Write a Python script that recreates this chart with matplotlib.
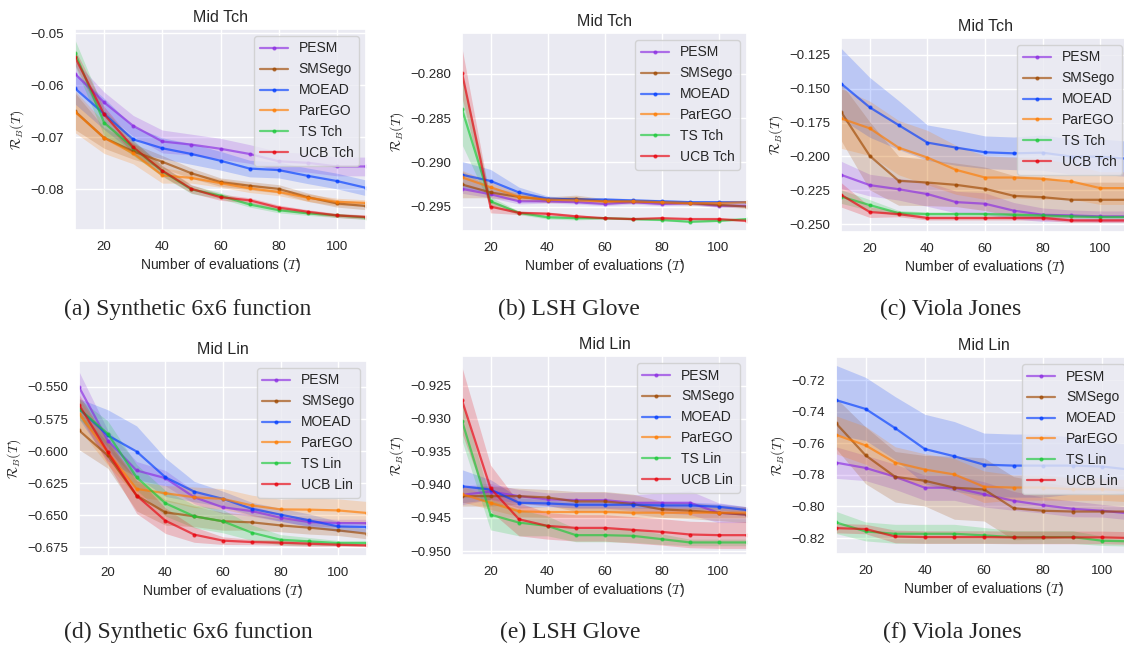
import numpy as np
import matplotlib
matplotlib.use('Agg')
import matplotlib.pyplot as plt
import seaborn as sns

sns.set_theme(style='darkgrid')
plt.rcParams['font.family'] = ['Liberation Sans', 'DejaVu Sans']
plt.rcParams['mathtext.fontset'] = 'cm'

# evaluations
T = [10, 20, 30, 40, 50, 60, 70, 80, 90, 100, 110]
methods = ['PESM', 'SMSego', 'MOEAD', 'ParEGO', 'TS', 'UCB']
colors = ['#8B2BE2', '#9F4800', '#023EFF', '#FF7C00', '#1AC938', '#E8000B']

# (a) Synthetic 6x6, Mid Tch
syn_tch_mean = {
    'PESM':   [-0.0578, -0.0633, -0.0678, -0.0708, -0.0714, -0.0722, -0.0732, -0.0746, -0.0749, -0.0756, -0.0756],
    'SMSego': [-0.0650, -0.0701, -0.0727, -0.0747, -0.0769, -0.0786, -0.0793, -0.0799, -0.0815, -0.0827, -0.0832],
    'MOEAD':  [-0.0606, -0.0655, -0.0704, -0.0721, -0.0732, -0.0745, -0.0760, -0.0763, -0.0774, -0.0784, -0.0797],
    'ParEGO': [-0.0651, -0.0701, -0.0731, -0.0773, -0.0778, -0.0788, -0.0798, -0.0805, -0.0816, -0.0824, -0.0826],
    'TS':     [-0.0538, -0.0672, -0.0720, -0.0765, -0.0800, -0.0812, -0.0829, -0.0840, -0.0846, -0.0850, -0.0854],
    'UCB':    [-0.0546, -0.0656, -0.0719, -0.0764, -0.0799, -0.0815, -0.0821, -0.0835, -0.0843, -0.0850, -0.0853],
}
syn_tch_sd = {
    'PESM':   [0.0025, 0.0020, 0.0020, 0.0022, 0.0020, 0.0020, 0.0018, 0.0018, 0.0018, 0.0018, 0.0018],
    'SMSego': [0.0035, 0.0020, 0.0015, 0.0012, 0.0010, 0.0008, 0.0008, 0.0008, 0.0008, 0.0007, 0.0007],
    'MOEAD':  [0.0030, 0.0030, 0.0025, 0.0020, 0.0020, 0.0018, 0.0016, 0.0015, 0.0015, 0.0015, 0.0015],
    'ParEGO': [0.0040, 0.0030, 0.0020, 0.0015, 0.0010, 0.0008, 0.0008, 0.0007, 0.0007, 0.0007, 0.0006],
    'TS':     [0.0025, 0.0025, 0.0015, 0.0010, 0.0008, 0.0006, 0.0005, 0.0005, 0.0004, 0.0004, 0.0004],
    'UCB':    [0.0015, 0.0015, 0.0012, 0.0010, 0.0008, 0.0006, 0.0005, 0.0005, 0.0004, 0.0004, 0.0004],
}

# (b) LSH Glove, Mid Tch
lsh_tch_mean = {
    'PESM':   [-0.2930, -0.2936, -0.2944, -0.2944, -0.2945, -0.2947, -0.2945, -0.2947, -0.2946, -0.2949, -0.2949],
    'SMSego': [-0.2925, -0.2934, -0.2939, -0.2942, -0.2941, -0.2944, -0.2944, -0.2945, -0.2946, -0.2948, -0.2950],
    'MOEAD':  [-0.2914, -0.2921, -0.2934, -0.2941, -0.2942, -0.2942, -0.2943, -0.2944, -0.2945, -0.2945, -0.2945],
    'ParEGO': [-0.2917, -0.2928, -0.2939, -0.2942, -0.2943, -0.2944, -0.2944, -0.2945, -0.2946, -0.2946, -0.2945],
    'TS':     [-0.2840, -0.2944, -0.2957, -0.2962, -0.2963, -0.2963, -0.2964, -0.2965, -0.2967, -0.2966, -0.2964],
    'UCB':    [-0.2799, -0.2950, -0.2957, -0.2958, -0.2961, -0.2963, -0.2964, -0.2963, -0.2964, -0.2964, -0.2966],
}
lsh_tch_sd = {
    'PESM':   [0.0005, 0.0004, 0.0003, 0.0002, 0.0002, 0.0002, 0.0002, 0.0002, 0.0002, 0.0002, 0.0002],
    'SMSego': [0.0015, 0.0006, 0.0004, 0.0003, 0.0004, 0.0003, 0.0002, 0.0002, 0.0002, 0.0002, 0.0002],
    'MOEAD':  [0.0015, 0.0013, 0.0006, 0.0003, 0.0002, 0.0002, 0.0002, 0.0002, 0.0002, 0.0002, 0.0002],
    'ParEGO': [0.0008, 0.0006, 0.0004, 0.0003, 0.0002, 0.0002, 0.0002, 0.0002, 0.0002, 0.0002, 0.0002],
    'TS':     [0.0040, 0.0005, 0.0002, 0.0002, 0.0002, 0.0001, 0.0001, 0.0001, 0.0001, 0.0001, 0.0001],
    'UCB':    [0.0028, 0.0007, 0.0002, 0.0002, 0.0002, 0.0001, 0.0001, 0.0001, 0.0001, 0.0001, 0.0001],
}

# (c) Viola Jones, Mid Tch
vj_tch_mean = {
    'PESM':   [-0.2135, -0.2211, -0.2241, -0.2277, -0.2336, -0.2348, -0.2399, -0.2429, -0.2434, -0.2441, -0.2441],
    'SMSego': [-0.1671, -0.1996, -0.2179, -0.2192, -0.2209, -0.2238, -0.2290, -0.2300, -0.2319, -0.2319, -0.2319],
    'MOEAD':  [-0.1463, -0.1639, -0.1769, -0.1898, -0.1935, -0.1969, -0.1977, -0.1972, -0.2001, -0.2001, -0.2018],
    'ParEGO': [-0.1720, -0.1793, -0.1935, -0.2008, -0.2099, -0.2155, -0.2155, -0.2165, -0.2184, -0.2233, -0.2233],
    'TS':     [-0.2295, -0.2358, -0.2417, -0.2424, -0.2424, -0.2424, -0.2429, -0.2434, -0.2441, -0.2446, -0.2446],
    'UCB':    [-0.2282, -0.2409, -0.2424, -0.2453, -0.2453, -0.2453, -0.2453, -0.2453, -0.2471, -0.2471, -0.2471],
}
vj_tch_sd = {
    'PESM':   [0.010, 0.008, 0.008, 0.009, 0.008, 0.008, 0.006, 0.005, 0.004, 0.004, 0.004],
    'SMSego': [0.021, 0.025, 0.018, 0.017, 0.016, 0.016, 0.015, 0.015, 0.013, 0.013, 0.013],
    'MOEAD':  [0.026, 0.022, 0.018, 0.013, 0.013, 0.012, 0.012, 0.013, 0.013, 0.013, 0.013],
    'ParEGO': [0.022, 0.020, 0.020, 0.020, 0.018, 0.016, 0.015, 0.015, 0.013, 0.012, 0.012],
    'TS':     [0.005, 0.004, 0.002, 0.0015, 0.0015, 0.0015, 0.0015, 0.0015, 0.0015, 0.0015, 0.0015],
    'UCB':    [0.009, 0.004, 0.002, 0.0015, 0.0015, 0.0015, 0.0015, 0.0015, 0.0015, 0.0015, 0.0015],
}

# (d) Synthetic 6x6, Mid Lin
syn_lin_mean = {
    'PESM':   [-0.5500, -0.5918, -0.6152, -0.6212, -0.6361, -0.6440, -0.6469, -0.6521, -0.6555, -0.6563, -0.6563],
    'SMSego': [-0.5839, -0.6035, -0.6348, -0.6479, -0.6510, -0.6549, -0.6557, -0.6581, -0.6599, -0.6620, -0.6646],
    'MOEAD':  [-0.5670, -0.5878, -0.6004, -0.6205, -0.6317, -0.6374, -0.6451, -0.6497, -0.6542, -0.6589, -0.6594],
    'ParEGO': [-0.5709, -0.6010, -0.6296, -0.6330, -0.6361, -0.6374, -0.6425, -0.6456, -0.6458, -0.6464, -0.6484],
    'TS':     [-0.5670, -0.5865, -0.6205, -0.6408, -0.6510, -0.6549, -0.6638, -0.6693, -0.6706, -0.6719, -0.6719],
    'UCB':    [-0.5638, -0.6009, -0.6348, -0.6544, -0.6653, -0.6700, -0.6711, -0.6716, -0.6724, -0.6732, -0.6737],
}
syn_lin_sd = {
    'PESM':   [0.012, 0.008, 0.007, 0.006, 0.005, 0.005, 0.004, 0.003, 0.003, 0.003, 0.003],
    'SMSego': [0.015, 0.010, 0.012, 0.010, 0.008, 0.007, 0.006, 0.005, 0.005, 0.004, 0.004],
    'MOEAD':  [0.008, 0.020, 0.020, 0.015, 0.008, 0.006, 0.005, 0.005, 0.005, 0.004, 0.004],
    'ParEGO': [0.012, 0.010, 0.006, 0.006, 0.008, 0.008, 0.008, 0.008, 0.009, 0.009, 0.009],
    'TS':     [0.008, 0.010, 0.010, 0.010, 0.009, 0.009, 0.006, 0.004, 0.003, 0.002, 0.002],
    'UCB':    [0.008, 0.009, 0.014, 0.010, 0.006, 0.003, 0.002, 0.002, 0.002, 0.001, 0.001],
}

# (e) LSH Glove, Mid Lin
lsh_lin_mean = {
    'PESM':   [-0.9415, -0.9410, -0.9417, -0.9422, -0.9423, -0.9423, -0.9427, -0.9427, -0.9427, -0.9442, -0.9445],
    'SMSego': [-0.9417, -0.9417, -0.9417, -0.9419, -0.9425, -0.9425, -0.9429, -0.9437, -0.9439, -0.9442, -0.9445],
    'MOEAD':  [-0.9402, -0.9407, -0.9427, -0.9428, -0.9430, -0.9430, -0.9430, -0.9431, -0.9431, -0.9433, -0.9438],
    'ParEGO': [-0.9414, -0.9427, -0.9440, -0.9441, -0.9441, -0.9441, -0.9442, -0.9442, -0.9442, -0.9442, -0.9442],
    'TS':     [-0.9303, -0.9445, -0.9457, -0.9462, -0.9476, -0.9476, -0.9477, -0.9482, -0.9487, -0.9487, -0.9487],
    'UCB':    [-0.9272, -0.9405, -0.9452, -0.9462, -0.9465, -0.9465, -0.9468, -0.9471, -0.9475, -0.9476, -0.9476],
}
lsh_lin_sd = {
    'PESM':   [0.0015, 0.0012, 0.0010, 0.0010, 0.0012, 0.0012, 0.0012, 0.0015, 0.0018, 0.0015, 0.0012],
    'SMSego': [0.0015, 0.0015, 0.0012, 0.0012, 0.0015, 0.0015, 0.0015, 0.0012, 0.0012, 0.0012, 0.0012],
    'MOEAD':  [0.0025, 0.0015, 0.0008, 0.0005, 0.0005, 0.0005, 0.0005, 0.0005, 0.0005, 0.0005, 0.0005],
    'ParEGO': [0.0012, 0.0010, 0.0008, 0.0008, 0.0008, 0.0008, 0.0008, 0.0008, 0.0008, 0.0008, 0.0008],
    'TS':     [0.0030, 0.0023, 0.0020, 0.0015, 0.0010, 0.0010, 0.0010, 0.0008, 0.0005, 0.0005, 0.0005],
    'UCB':    [0.0050, 0.0035, 0.0025, 0.0020, 0.0020, 0.0020, 0.0020, 0.0020, 0.0020, 0.0020, 0.0020],
}

# (f) Viola Jones, Mid Lin
vj_lin_mean = {
    'PESM':   [-0.7722, -0.7756, -0.7812, -0.7881, -0.7881, -0.7923, -0.7964, -0.7992, -0.8015, -0.8027, -0.8046],
    'SMSego': [-0.7473, -0.7676, -0.7812, -0.7837, -0.7881, -0.7892, -0.8011, -0.8027, -0.8032, -0.8032, -0.8032],
    'MOEAD':  [-0.7326, -0.7382, -0.7504, -0.7636, -0.7682, -0.7735, -0.7741, -0.7741, -0.7741, -0.7747, -0.7768],
    'ParEGO': [-0.7546, -0.7613, -0.7722, -0.7766, -0.7797, -0.7875, -0.7880, -0.7880, -0.7891, -0.7891, -0.7901],
    'TS':     [-0.8101, -0.8158, -0.8173, -0.8173, -0.8173, -0.8183, -0.8194, -0.8194, -0.8194, -0.8217, -0.8221],
    'UCB':    [-0.8137, -0.8143, -0.8190, -0.8194, -0.8194, -0.8194, -0.8196, -0.8196, -0.8196, -0.8196, -0.8200],
}
vj_lin_sd = {
    'PESM':   [0.010, 0.008, 0.008, 0.008, 0.008, 0.008, 0.006, 0.005, 0.005, 0.004, 0.004],
    'SMSego': [0.016, 0.018, 0.016, 0.016, 0.020, 0.020, 0.020, 0.018, 0.016, 0.016, 0.016],
    'MOEAD':  [0.022, 0.020, 0.020, 0.022, 0.022, 0.020, 0.020, 0.020, 0.018, 0.016, 0.016],
    'ParEGO': [0.012, 0.012, 0.010, 0.010, 0.010, 0.010, 0.008, 0.008, 0.007, 0.007, 0.007],
    'TS':     [0.007, 0.006, 0.006, 0.006, 0.006, 0.005, 0.004, 0.004, 0.004, 0.003, 0.003],
    'UCB':    [0.003, 0.003, 0.004, 0.004, 0.004, 0.004, 0.004, 0.004, 0.004, 0.004, 0.004],
}

panels = [
    # mean, sd, title, suffix, ylim, yticks, caption, axes box in pixels (l, t, r, b)
    (syn_tch_mean, syn_tch_sd, 'Mid Tch', 'Tch', (-0.0878, -0.0492), [-0.08, -0.07, -0.06, -0.05],
     '(a) Synthetic 6x6 function', (75, 29, 366, 230), (188, 309)),
    (lsh_tch_mean, lsh_tch_sd, 'Mid Tch', 'Tch', (-0.29775, -0.2754), [-0.295, -0.290, -0.285, -0.280],
     '(b) LSH Glove', (462, 33, 747, 231), (569, 309)),
    (vj_tch_mean, vj_tch_sd, 'Mid Tch', 'Tch', (-0.2556, -0.1128), [-0.250, -0.225, -0.200, -0.175, -0.150, -0.125],
     '(c) Viola Jones', (841, 38, 1129, 232), (951, 309)),
    (syn_lin_mean, syn_lin_sd, 'Mid Lin', 'Lin', (-0.682, -0.5297), [-0.675, -0.650, -0.625, -0.600, -0.575, -0.550],
     '(d) Synthetic 6x6 function', (79, 361, 367, 556), (188, 632)),
    (lsh_lin_mean, lsh_lin_sd, 'Mid Lin', 'Lin', (-0.9506, -0.9205), [-0.950, -0.945, -0.940, -0.935, -0.930, -0.925],
     '(e) LSH Glove', (462, 356, 747, 555), (570, 632)),
    (vj_lin_mean, vj_lin_sd, 'Mid Lin', 'Lin', (-0.8301, -0.7053), [-0.82, -0.80, -0.78, -0.76, -0.74, -0.72],
     '(f) Viola Jones', (836, 357, 1132, 554), (952, 632)),
]

W, H = 1124, 647
fig = plt.figure(figsize=(W / 100, H / 100), dpi=100)
fig.patch.set_facecolor('white')

x = np.array(T)
for mean, sd, title, suffix, ylim, yticks, caption, box, cap_xy in panels:
    l, t, r, b = box
    ax = fig.add_axes([l / W, 1 - b / H, (r - l) / W, (b - t) / H])
    for name, c in zip(methods, colors):
        m = np.array(mean[name])
        s = np.array(sd[name])
        label = name if name not in ('TS', 'UCB') else f'{name} {suffix}'
        ax.fill_between(x, m - s, m + s, color=c, alpha=0.2, linewidth=0)
        ax.plot(x, m, color=c, alpha=0.65, linewidth=1.6, marker='.', markersize=4, label=label)
    ax.set_xlim(10, 110)
    ax.set_ylim(*ylim)
    ax.set_xticks([20, 40, 60, 80, 100])
    ax.set_yticks(yticks)
    ax.tick_params(labelsize=9.5, pad=2)
    ax.set_title(title, fontsize=11.5, pad=5)
    ax.set_xlabel('Number of evaluations ($T$)', fontsize=10, labelpad=2)
    ax.set_ylabel(r'$\mathcal{R}_B(T)$', fontsize=10, labelpad=3)
    ax.legend(loc='upper right', fontsize=10, framealpha=0.8)
    fig.text(cap_xy[0] / W, 1 - cap_xy[1] / H, caption, ha='center', va='center',
             fontsize=17, family='Liberation Serif')

fig.savefig('out.png', dpi=100)
